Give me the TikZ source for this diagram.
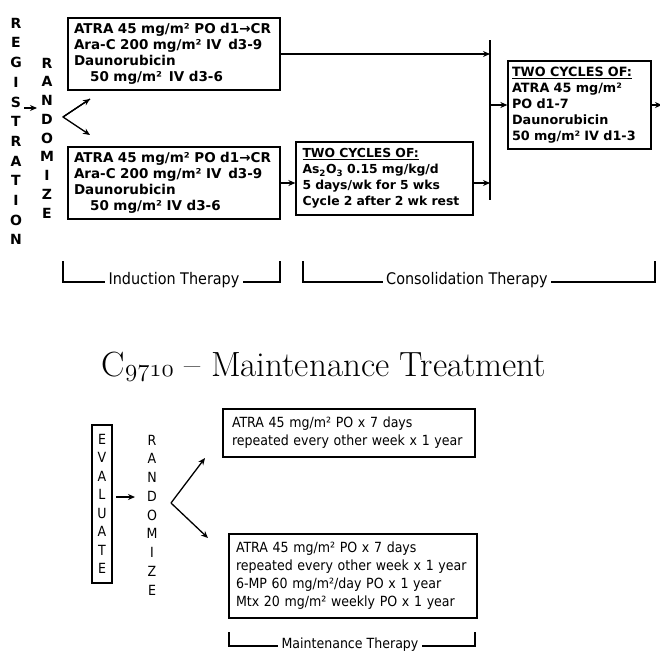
\documentclass[tikz,border=0pt]{standalone}
\usepackage{fontspec}
\setsansfont{DejaVu Sans}
\newfontfamily\condfont{DejaVu Sans Condensed}
\usetikzlibrary{arrows.meta, positioning, calc}
\newcommand{\osnum}[1]{{\fontencoding{OML}\fontfamily{lmm}\fontseries{m}\fontshape{it}\selectfont #1}}

\begin{document}
\begin{tikzpicture}[x=1pt, y=-1pt,
  box/.style={rectangle, draw, line width=1.3pt, align=left, inner sep=0pt,
              font=\sffamily\bfseries\fontsize{13.5}{16}\selectfont},
  mbox/.style={rectangle, draw, line width=1.2pt, align=left, inner sep=0pt,
               font=\condfont\fontsize{14}{18}\selectfont},
  vtext/.style={align=center, inner sep=0pt,
                font=\sffamily\bfseries\fontsize{14}{18.75}\selectfont},
  vmtext/.style={align=center, inner sep=0pt,
                 font=\condfont\fontsize{14}{18.5}\selectfont},
  lbl/.style={anchor=mid, inner xsep=3pt, inner ysep=0pt,
              font=\condfont\fontsize{16}{18}\selectfont},
  arr/.style={-{Stealth[length=7pt, width=6pt]}, line width=1.3pt},
  brk/.style={line width=1.3pt},
  bar/.style={line width=1.5pt}]

  \useasboundingbox (0,0) rectangle (660,653);

  % ── Induction ────────────────────────────────────────────────────
  \node[vtext, font=\sffamily\bfseries\fontsize{14}{19.7}\selectfont]
        (reg) at (16,131.5) {R\\E\\G\\I\\S\\T\\R\\A\\T\\I\\O\\N};
  \node[vtext] (rand) at (47,138) {R\\A\\N\\D\\O\\M\\I\\Z\\E};
  \node[box, minimum width=212pt, minimum height=72pt, text width=200pt]
        (ind1) at (174,54)
        {ATRA 45 mg/m² PO d1→CR\\Ara-C 200 mg/m² IV\, d3-9\\Daunorubicin\\
         \hspace*{1.2em}50 mg/m²\, IV d3-6};
  \node[box, minimum width=212pt, minimum height=72pt, text width=200pt]
        (ind2) at (174,183)
        {ATRA 45 mg/m² PO d1→CR\\Ara-C 200 mg/m² IV\, d3-9\\Daunorubicin\\
         \hspace*{1.2em}50 mg/m² IV d3-6};

  \coordinate (regout) at (24,108);
  \coordinate (randin) at (37,108);
  \coordinate (fork) at (63,117);
  \coordinate (up) at (90,99);
  \coordinate (down) at (90,135);
  \draw[arr] (regout) -- (randin);
  \draw[arr, line join=round] (up) -- (fork) -- (down);
  \draw[arr] (fork) -- (up);

  % ── Consolidation ────────────────────────────────────────────────
  \node[box, font=\sffamily\bfseries\fontsize{12.4}{16}\selectfont,
        minimum width=177pt, minimum height=73pt, text width=164pt]
        (cons1) at (384.5,178.5)
        {\underline{TWO CYCLES OF:}\\As\textsubscript{2}O\textsubscript{3} 0.15 mg/kg/d\\
         5 days/wk for 5 wks\\Cycle 2 after 2 wk rest};
  \node[box, font=\sffamily\bfseries\fontsize{12.8}{16}\selectfont,
        minimum width=143pt, minimum height=88pt, text width=135pt]
        (cons2) at (579.5,105)
        {\underline{TWO CYCLES OF:}\\ATRA 45 mg/m²\\PO d1-7\\Daunorubicin\\
         50 mg/m² IV d1-3};

  \coordinate (bartop) at (490,40);
  \coordinate (barbot) at (490,200);
  \coordinate (exit) at (662,105);
  \draw[bar] (bartop) -- (barbot);
  \draw[arr] (ind1.east) -- (ind1.east -| bartop);
  \draw[arr] (ind2.east) -- (ind2.east -| cons1.west);
  \draw[arr] (cons1.east |- ind2.east) -- (ind2.east -| bartop);
  \draw[arr] (cons2.west -| bartop) -- (cons2.west);
  \draw[arr] (cons2.east) -- (exit);

  % ── Phase brackets ───────────────────────────────────────────────
  \node[lbl] (induct) at (174,282) {Induction Therapy};
  \node[lbl] (consol) at (467,282) {Consolidation Therapy};
  \coordinate (indL) at (63,261);
  \coordinate (indR) at (280,261);
  \coordinate (conL) at (303,261);
  \coordinate (conR) at (655,261);
  \draw[brk] (indL) |- (induct.mid west);
  \draw[brk] (indR) |- (induct.mid east);
  \draw[brk] (conL) |- (consol.mid west);
  \draw[brk] (conR) |- (consol.mid east);

  % ── Maintenance ──────────────────────────────────────────────────
  \node[font=\fontsize{35}{40}\selectfont] (title) at (324,367)
        {C\osnum{9710} \textendash{} Maintenance Treatment};

  \node[vmtext, draw, line width=1.2pt, minimum width=20pt, minimum height=158pt]
        (eval) at (102,504) {E\\V\\A\\L\\U\\A\\T\\E};
  \node[vmtext, font=\condfont\fontsize{14}{18.75}\selectfont]
        (mrand) at (152,515) {R\\A\\N\\D\\O\\M\\I\\Z\\E};
  \node[mbox, minimum width=252pt, minimum height=48pt, text width=234pt]
        (main1) at (349,433)
        {ATRA 45 mg/m² PO x 7 days\\repeated every other week x 1 year};
  \node[mbox, minimum width=248pt, minimum height=84pt, text width=234pt]
        (main2) at (353,576)
        {ATRA 45 mg/m² PO x 7 days\\repeated every other week x 1 year\\
         6-MP 60 mg/m²/day PO x 1 year\\Mtx 20 mg/m² weekly PO x 1 year};

  \coordinate (evalout) at (116,497);
  \coordinate (mrandin) at (135,497);
  \coordinate (mfork) at (171,503);
  \coordinate (mup) at (205,458);
  \coordinate (mdown) at (208,538);
  \draw[arr] (evalout) -- (mrandin);
  \draw[arr] (mfork) -- (mup);
  \draw[arr] (mfork) -- (mdown);

  \node[lbl, font=\condfont\fontsize{14}{16}\selectfont] (maint) at (350,646)
        {Maintenance Therapy};
  \coordinate (mntL) at (229,632);
  \coordinate (mntR) at (475,632);
  \draw[brk] (mntL) |- (maint.mid west);
  \draw[brk] (mntR) |- (maint.mid east);

\end{tikzpicture}
\end{document}
